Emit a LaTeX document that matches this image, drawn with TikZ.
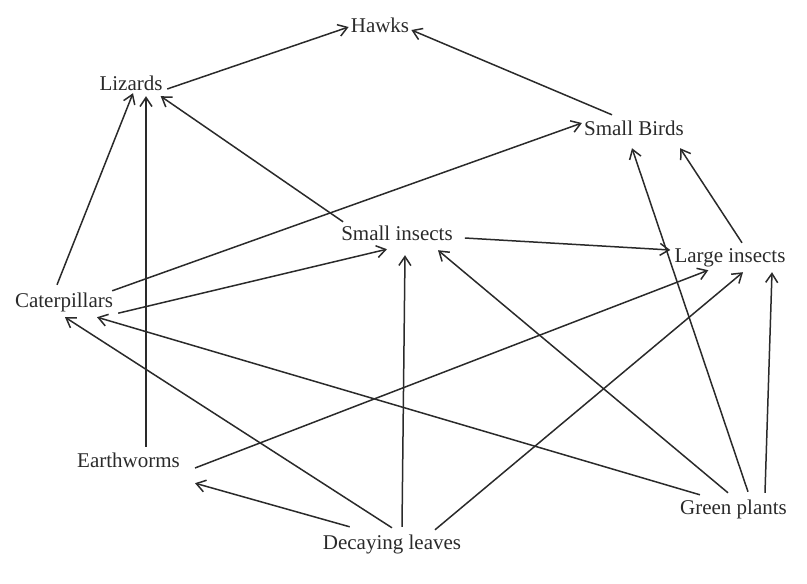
\documentclass[tikz,border=0pt]{standalone}
\usepackage{fontspec}
\setmainfont{Liberation Serif}
\usepackage{tikz}
\usetikzlibrary{positioning,calc,arrows.meta}

\definecolor{inkgray}{HTML}{2A2A2A}
\tikzset{
  animal/.style={font=\fontsize{21}{25}\selectfont,text=inkgray,inner sep=2pt,
    text height=14pt,text depth=4pt},
  eats/.style={draw=inkgray,line width=1.5pt,-{Straight Barb[length=9pt,width=12pt]}}
}

\begin{document}
\begin{tikzpicture}[x=1pt,y=-1pt]
      \useasboundingbox (0,0) rectangle (807,584);
      % organisms
      \node[animal] (hawks) at (380,27) {Hawks};
      \node[animal] (lizards) at (131,85) {Lizards};
      \node[animal] (birds) at (634,130) {Small Birds};
      \node[animal] (smallins) at (397,235) {Small insects};
      \node[animal] (largeins) at (730,257) {Large insects};
      \node[animal] (caterp) at (64,302) {Caterpillars};
      \node[animal] (earthw) at (128.5,462) {Earthworms};
      \node[animal] (green) at (733.5,509) {Green plants};
      \node[animal] (decay) at (392,544) {Decaying leaves};
      % who eats whom
      \draw[eats] ([xshift=2.5pt,yshift=-4pt]lizards.east) -- (hawks.west);
      \draw[eats] ([xshift=-22pt,yshift=4pt]birds.north) -- ([yshift=-3pt]hawks.east);
      \draw[eats] ([xshift=-7pt,yshift=6pt]caterp.north) -- ([xshift=2pt,yshift=3pt]lizards.south);
      \draw[eats] ([xshift=17.5pt,yshift=4pt]earthw.north) -- ([xshift=15pt]lizards.south);
      \draw[eats] ([xshift=4pt,yshift=2pt]smallins.north west) -- ([xshift=-4pt]lizards.south east);
      \draw[eats] ([xshift=-3pt]caterp.north east) -- ([yshift=7pt]birds.west);
      \draw[eats] ([xshift=3pt]caterp.south east) -- ([xshift=-10pt,yshift=-3pt]smallins.south);
      \draw[eats] ([xshift=10pt,yshift=-3pt]smallins.east) -- ([xshift=-2pt,yshift=7pt]largeins.west);
      \draw[eats] ([xshift=12pt,yshift=3pt]largeins.north) -- ([xshift=-6pt,yshift=-7pt]birds.south east);
      \draw[eats] ([xshift=14.5pt,yshift=6pt]green.north) -- ([xshift=-2pt,yshift=-7pt]birds.south);
      \draw[eats] ([xshift=31.5pt,yshift=5pt]green.north) -- ([xshift=42pt,yshift=-4pt]largeins.south);
      \draw[eats] ([xshift=-5.5pt,yshift=5pt]green.north) -- ([xshift=41pt,yshift=-4pt]smallins.south);
      \draw[eats] ([xshift=22pt,yshift=3pt]green.north west) -- ([xshift=33pt,yshift=-4pt]caterp.south);
      \draw[eats] ([yshift=5pt]decay.north) -- ([xshift=1pt,yshift=-4pt]caterp.south);
      \draw[eats] ([xshift=10pt,yshift=6pt]decay.north) -- ([xshift=8pt,yshift=-9pt]smallins.south);
      \draw[eats] ([xshift=43pt,yshift=3pt]decay.north) -- ([xshift=13pt,yshift=-4pt]largeins.south);
      \draw[eats] ([xshift=29pt,yshift=6pt]decay.north west) -- ([xshift=13pt,yshift=-10pt]earthw.south east);
      \draw[eats] ([xshift=13pt,yshift=-6pt]earthw.east) -- ([xshift=36pt,yshift=-2pt]largeins.south west);
    \end{tikzpicture}
\end{document}
